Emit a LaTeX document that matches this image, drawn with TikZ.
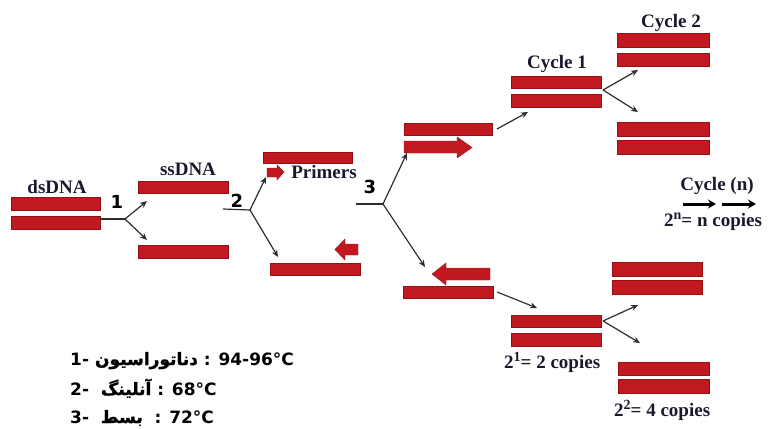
\documentclass[tikz,border=0pt]{standalone}
\usepackage{fontspec}
\setmainfont{Liberation Serif}
\newfontfamily\legfont{DejaVu Sans}
\newfontfamily\arabicfont[Script=Arabic,FakeBold=1.5]{DejaVu Sans}
\TeXXeTstate=1
\usetikzlibrary{arrows.meta}
\definecolor{barred}{RGB}{194,24,32}
\definecolor{bardark}{RGB}{150,15,20}
\definecolor{inkc}{RGB}{45,45,45}
\definecolor{labc}{RGB}{25,25,45}
\begin{document}
\begin{tikzpicture}[x=1pt,y=-1pt,
  bar/.style={draw=bardark, line width=0.4pt, fill=barred, inner sep=0pt, minimum height=13pt},
  conn/.style={draw=inkc, line width=1.2pt, -{Stealth[length=7pt,width=6pt]}},
  stem/.style={draw=inkc, line width=1.2pt},
  bigarrow/.style={draw=black, line width=3pt, -{Stealth[length=8pt,width=9pt]}},
  lab/.style={font=\bfseries\fontsize{19}{21}\selectfont, inner sep=0pt, anchor=base, text=labc},
  num/.style={font=\legfont\bfseries\fontsize{18}{20}\selectfont, inner sep=0pt, anchor=base},
  leg/.style={font=\legfont\bfseries\fontsize{17}{19}\selectfont, inner sep=0pt, anchor=base west},
  primer/.style={fill=barred, draw=bardark, line width=0.4pt}
]
\useasboundingbox (0,0) rectangle (775,428);

% dsDNA
\node[bar, minimum width=89pt] (ds1) at (55.5,203.5) {};
\node[bar, minimum width=89pt] (ds2) at (55.5,222.5) {};
\node[lab] (dslab) at (57,193) {dsDNA};
\node[num] (n1) at (117,208) {1};

% ssDNA
\node[bar, minimum width=90pt, minimum height=12pt] (ss1) at (183,187) {};
\node[bar, minimum width=90pt] (ss2) at (183,251.5) {};
\node[lab] (sslab) at (188,175) {ssDNA};
\node[num] (n2) at (237,207) {2};

% primers stage
\node[bar, minimum width=89pt, minimum height=11pt] (pr1) at (307.5,158) {};
\node[bar, minimum width=90pt, minimum height=12pt] (pr2) at (315,269) {};
\draw[primer] (267,168) -- (277,168) -- (277,165) -- (284,172) -- (277,180) -- (277,177) -- (267,177) -- cycle;
\draw[primer] (358,244) -- (345,244) -- (345,239) -- (335,249.5) -- (345,260) -- (345,255) -- (358,255) -- cycle;
\node[lab] (primlab) at (324,178) {Primers};
\node[num] (n3) at (370,193) {3};

% extension stage
\node[bar, minimum width=88pt, minimum height=12pt] (up1) at (448,129) {};
\draw[primer] (404,141) -- (457,141) -- (457,137) -- (472,147.5) -- (457,158) -- (457,153) -- (404,153) -- cycle;
\draw[primer] (490,268) -- (446,268) -- (446,263) -- (432,274) -- (446,285) -- (446,280) -- (490,280) -- cycle;
\node[bar, minimum width=90pt, minimum height=12pt] (lo1) at (448,292) {};

% cycle 1
\node[bar, minimum width=90pt, minimum height=12pt] (c1a) at (556,82) {};
\node[bar, minimum width=90pt] (c1b) at (556,100.5) {};
\node[lab] (c1lab) at (557,68) {Cycle 1};

% cycle 2
\node[bar, minimum width=92pt, minimum height=14pt] (c2a) at (663,40.5) {};
\node[bar, minimum width=92pt] (c2b) at (663,59.5) {};
\node[bar, minimum width=92pt, minimum height=14pt] (c2c) at (663,129) {};
\node[bar, minimum width=92pt, minimum height=14pt] (c2d) at (663,147) {};
\node[lab] (c2lab) at (671,28) {Cycle 2};

% cycle n
\node[lab] (cnlab) at (717,190) {Cycle (n)};
\coordinate (b1s) at (683,204);
\coordinate (b1e) at (716,204);
\coordinate (b2s) at (722,204);
\coordinate (b2e) at (756,204);
\draw[bigarrow] (b1s) -- (b1e);
\draw[bigarrow] (b2s) -- (b2e);
\node[lab, anchor=base west] (cncop) at (664,226) {2\raisebox{7pt}{\fontsize{14}{14}\selectfont n}= n copies};

% lower copies
\node[bar, minimum width=90pt, minimum height=12pt] (k1a) at (556,321) {};
\node[bar, minimum width=90pt] (k1b) at (556,339.5) {};
\node[lab, anchor=base west] (k1lab) at (504,368) {2\raisebox{7pt}{\fontsize{14}{14}\selectfont 1}= 2 copies};
\node[bar, minimum width=90pt, minimum height=14pt] (k2a) at (657,269) {};
\node[bar, minimum width=90pt, minimum height=14pt] (k2b) at (657,287) {};
\node[bar, minimum width=91pt] (k2c) at (663.5,368.5) {};
\node[bar, minimum width=91pt, minimum height=14pt] (k2d) at (663.5,386) {};
\node[lab, anchor=base west] (k2lab) at (614,416) {2\raisebox{7pt}{\fontsize{14}{14}\selectfont 2}= 4 copies};

% connectors
\coordinate (f1s) at (100,219);
\coordinate (f1) at (125,219);
\coordinate (t1a) at (147,201);
\coordinate (t1b) at (147,240);
\draw[stem] (f1s) -- (f1);
\draw[conn] (f1) -- (t1a);
\draw[conn] (f1) -- (t1b);

\coordinate (f2s) at (223,209);
\coordinate (f2) at (250,210);
\coordinate (t2a) at (266,177);
\coordinate (t2b) at (278,257);
\draw[stem] (f2s) -- (f2);
\draw[conn] (f2) -- (t2a);
\draw[conn] (f2) -- (t2b);

\coordinate (f3s) at (356,204);
\coordinate (f3) at (383,204);
\coordinate (t3a) at (407,153);
\coordinate (t3b) at (425,267);
\draw[stem] (f3s) -- (f3);
\draw[conn] (f3) -- (t3a);
\draw[conn] (f3) -- (t3b);

\coordinate (u1s) at (497,129);
\coordinate (u1e) at (528,112);
\draw[conn] (u1s) -- (u1e);
\coordinate (f4) at (603,90);
\coordinate (t4a) at (638,70);
\coordinate (t4b) at (638,112);
\draw[conn] (f4) -- (t4a);
\draw[conn] (f4) -- (t4b);

\coordinate (l1s) at (497,292);
\coordinate (l1e) at (537,308);
\draw[conn] (l1s) -- (l1e);
\coordinate (f5) at (603,321);
\coordinate (t5a) at (638,305);
\coordinate (t5b) at (640,343);
\draw[conn] (f5) -- (t5a);
\draw[conn] (f5) -- (t5b);

% legend
\node[leg] (leg1) at (70,365) {1- {\arabicfont\beginR دناتوراسیون\endR} : 94-96°C};
\node[leg] (leg2) at (70,395) {2- \ {\arabicfont\beginR آنلینگ\endR} : 68°C};
\node[leg] (leg3) at (70,423) {3- \ {\arabicfont\beginR بسط\endR} \ : 72°C};
\end{tikzpicture}
\end{document}
